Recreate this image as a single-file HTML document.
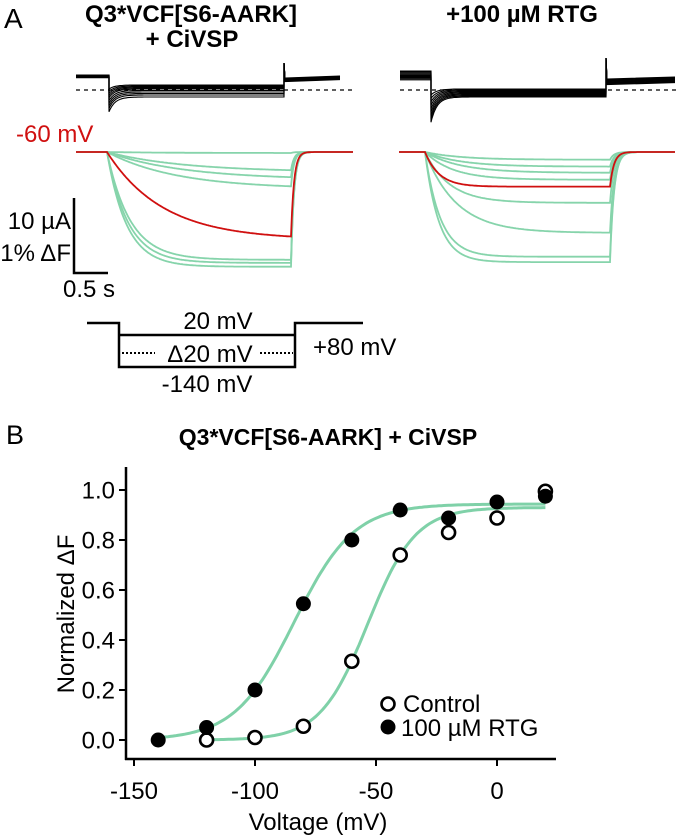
<!DOCTYPE html>
<html><head><meta charset="utf-8"><style>
html,body{margin:0;padding:0;background:#fff}
svg{display:block;font-family:"Liberation Sans",Arial,sans-serif}
</style></head><body>
<svg id="fig" width="677" height="836" viewBox="0 0 677 836" xmlns="http://www.w3.org/2000/svg">
<g id="panelA">
<text x="4" y="28" font-size="28">A</text>
<text x="191" y="22" font-size="24" font-weight="bold" text-anchor="middle">Q3*VCF[S6-AARK]</text>
<text x="192" y="47" font-size="24" font-weight="bold" text-anchor="middle">+ CiVSP</text>
<text x="522" y="22" font-size="24" font-weight="bold" text-anchor="middle">+100 µM RTG</text>
<line x1="76" y1="90" x2="353" y2="90" stroke="#000" stroke-width="1.2" stroke-dasharray="4,4"/>
<line x1="400" y1="90" x2="676" y2="90" stroke="#000" stroke-width="1.2" stroke-dasharray="4,4"/>
<g id="curL"></g>
<g id="curR"></g>
<text x="16" y="142" font-size="24" fill="#d01010">-60 mV</text>
<g id="flL"></g>
<g id="flR"></g>
<path d="M74 198 V273 H108" fill="none" stroke="#000" stroke-width="2.5"/>
<text x="71" y="229" font-size="24" text-anchor="end">10 µA</text>
<text x="71" y="261" font-size="24" text-anchor="end">1% ΔF</text>
<text x="63" y="297" font-size="24">0.5 s</text>
<path d="M87 323 H119 V367 H295 V323 H363" fill="none" stroke="#000" stroke-width="2.5"/>
<line x1="119" y1="335" x2="295" y2="335" stroke="#000" stroke-width="2.5"/>
<line x1="122" y1="353" x2="155" y2="353" stroke="#000" stroke-width="2" stroke-dasharray="2,2"/>
<line x1="260" y1="353" x2="293" y2="353" stroke="#000" stroke-width="2" stroke-dasharray="2,2"/>
<text x="218" y="329" font-size="24" text-anchor="middle">20 mV</text>
<text x="210" y="362" font-size="24" text-anchor="middle">Δ20 mV</text>
<text x="207" y="392" font-size="24" text-anchor="middle">-140 mV</text>
<text x="313" y="355" font-size="24">+80 mV</text>
</g>
<g id="panelB">
<text x="6" y="444" font-size="27">B</text>
<text x="328" y="445" font-size="23" font-weight="bold" text-anchor="middle">Q3*VCF[S6-AARK] + CiVSP</text>
<text transform="translate(74,614) rotate(-90)" font-size="24" text-anchor="middle">Normalized ΔF</text>
<text x="318" y="830" font-size="24" text-anchor="middle">Voltage (mV)</text>
<g id="axes"></g>
<g id="fits"></g>
<g id="pts"></g>
<circle cx="388" cy="704" r="6.5" fill="#fff" stroke="#000" stroke-width="2.6"/>
<text x="403" y="712" font-size="24">Control</text>
<circle cx="388" cy="727" r="7.5" fill="#000"/>
<text x="401" y="736" font-size="24">100 µM RTG</text>
</g>
</svg>
<script>
// ---- Panel B data ----
const voltages = [-140, -120, -100, -80, -60, -40, -20, 0, 20];
const rtgValues = [0.0, 0.05, 0.20, 0.545, 0.80, 0.92, 0.888, 0.952, 0.975];
const controlVoltages = [-120, -100, -80, -60, -40, -20, 0, 20];
const controlValues = [0.0, 0.01, 0.055, 0.315, 0.74, 0.83, 0.888, 0.995];
const rtgFit = [0.944, -83.8, 12.3];     // max, V1/2, slope
const controlFit = [0.93, -53.4, 9.85];
const xTicks = [-150, -100, -50, 0];
const yTicks = [0.0, 0.2, 0.4, 0.6, 0.8, 1.0];
const yTickLabels = ["0.0", "0.2", "0.4", "0.6", "0.8", "1.0"];
// ---- Panel A data (amplitude in %ΔF, tau in s) ----
const leftAmps = [0.013, 0.26, 0.36, 0.48, 1.14, 1.40, 1.44, 1.49];
const leftTaus = [0.8, 1.1, 1.1, 1.0, 0.8, 0.33, 0.30, 0.28];
const rightAmps = [0.10, 0.19, 0.27, 0.36, 0.45, 0.66, 1.05, 1.36, 1.43];
const rightTaus = [0.5, 0.5, 0.5, 0.4, 0.2, 0.35, 0.45, 0.22, 0.2];
const redIndexLeft = 4, redIndexRight = 4;
const leftCurrentLevels = [85, 86, 87, 88, 89, 90.5, 92, 93.5, 95, 97];
const rightCurrentLevels = [89, 90, 91, 92, 93, 94, 95, 96, 97];

const NS = "http://www.w3.org/2000/svg";
function mk(tag, attrs, parent) {
  const e = document.createElementNS(NS, tag);
  for (const k in attrs) e.setAttribute(k, attrs[k]);
  parent.appendChild(e);
  return e;
}
const X = v => 497 + 2.42 * v;
const Y = f => 740 - 250 * f;
const boltz = (p, v) => p[0] / (1 + Math.exp((p[1] - v) / p[2]));

const axes = document.getElementById('axes');
let l = mk('line', {x1: 126, y1: 467, x2: 126, y2: 760, stroke: '#000', 'stroke-width': 2.5}, axes);


l = mk('line', {x1: 125, y1: 759, x2: 556, y2: 759, stroke: '#000', 'stroke-width': 2.5}, axes);


xTicks.forEach(t => {
  const tk = mk('line', {x1: X(t), y1: 759, x2: X(t), y2: 766, stroke: '#000', 'stroke-width': 2}, axes);
  
  
  const tx = mk('text', {x: X(t), y: 799, 'font-size': 24, 'text-anchor': 'middle'}, axes);
  tx.textContent = String(t);
  
  
});
yTicks.forEach((t, i) => {
  const tk = mk('line', {x1: 119, y1: Y(t), x2: 126, y2: Y(t), stroke: '#000', 'stroke-width': 2}, axes);
  
  
  const tx = mk('text', {x: 115, y: Y(t) + 8.5, 'font-size': 24, 'text-anchor': 'end'}, axes);
  tx.textContent = yTickLabels[i];
  
  
});
const fits = document.getElementById('fits');
function fitPath(p, v0, v1) {
  let d = '';
  for (let v = v0; v <= v1; v += 1) d += (d ? 'L' : 'M') + X(v).toFixed(1) + ' ' + Y(boltz(p, v)).toFixed(1);
  return d;
}
let fp = mk('path', {d: fitPath(rtgFit, -140, 20), fill: 'none', stroke: '#7fd1a8', 'stroke-width': 3}, fits);


fp = mk('path', {d: fitPath(controlFit, -120, 20), fill: 'none', stroke: '#7fd1a8', 'stroke-width': 3}, fits);


const pts = document.getElementById('pts');
controlVoltages.forEach((v, i) => {
  const c = mk('circle', {cx: X(v), cy: Y(controlValues[i]), r: 6.5, fill: '#fff', stroke: '#000', 'stroke-width': 2.6}, pts);
  
  
});
voltages.forEach((v, i) => {
  const c = mk('circle', {cx: X(v), cy: Y(rtgValues[i]), r: 7.5, fill: '#000'}, pts);
  
  
});

// ---- Panel A traces ----
const PXPERPCT = 77, PXPERS = 70;
function flTrace(g, x0, xOn, xOff, x1, base, amp, tau, color, name, recover) {
  const A = amp * PXPERPCT, T = tau * PXPERS;
  let d = 'M' + x0 + ' ' + base;
  let endVal = 0;
  for (let x = x0; x <= x1; x += 1) {
    let y = base;
    if (x >= xOn && x <= xOff) { endVal = A * (1 - Math.exp(-(x - xOn) / T)); y = base + endVal; }
    else if (x > xOff) { y = base + endVal * Math.exp(-(x - xOff) / recover); }
    d += 'L' + x + ' ' + y.toFixed(1);
  }
  const p = mk('path', {d: d, fill: 'none', stroke: color, 'stroke-width': 1.8}, g);
  
  
}
const flL = document.getElementById('flL');
leftAmps.forEach((a, i) => { if (i !== redIndexLeft) flTrace(flL, 76, 107, 291, 353, 152, a, leftTaus[i], '#86d4ab', 'left-df-trace', 3); });
flTrace(flL, 76, 107, 291, 353, 152, leftAmps[redIndexLeft], leftTaus[redIndexLeft], '#d01010', 'left-df-red-trace', 3);
const flR = document.getElementById('flR');
rightAmps.forEach((a, i) => { if (i !== redIndexRight) flTrace(flR, 399, 425, 610, 675, 152, a, rightTaus[i], '#86d4ab', 'right-df-trace', 4); });
flTrace(flR, 399, 425, 610, 675, 152, rightAmps[redIndexRight], rightTaus[redIndexRight], '#d01010', 'right-df-red-trace', 4);

function curTrace(g, x0, xOn, xOff, x1, hold, level, spikeDown, spikeUp, after, name) {
  let d = 'M' + x0 + ' ' + hold + 'H' + xOn + 'V' + spikeDown;
  for (let x = xOn + 1; x <= xOff; x += 2) {
    const y = level + (spikeDown - level) * Math.exp(-(x - xOn) / 6);
    d += 'L' + x + ' ' + y.toFixed(1);
  }
  d += 'L' + xOff + ' ' + spikeUp + 'L' + (xOff + 1) + ' ' + after + 'L' + x1 + ' ' + (after - 2);
  const p = mk('path', {d: d, fill: 'none', stroke: '#000', 'stroke-width': 1.1}, g);
  
  
}
const curL = document.getElementById('curL');
leftCurrentLevels.forEach((lv, i) => curTrace(curL, 76, 109, 284, 340, 75 + i * 0.3, lv, lv + 4 + i * 1.2, 63, 78 + i * 0.4, 'left-current-trace'));
const curR = document.getElementById('curR');
rightCurrentLevels.forEach((lv, i) => curTrace(curR, 400, 431, 606, 675, 71 + i * 1.1, lv, lv + 6 + i * 2.4, 58, 79 + i * 0.7, 'right-current-trace'));
</script>
</body></html>
